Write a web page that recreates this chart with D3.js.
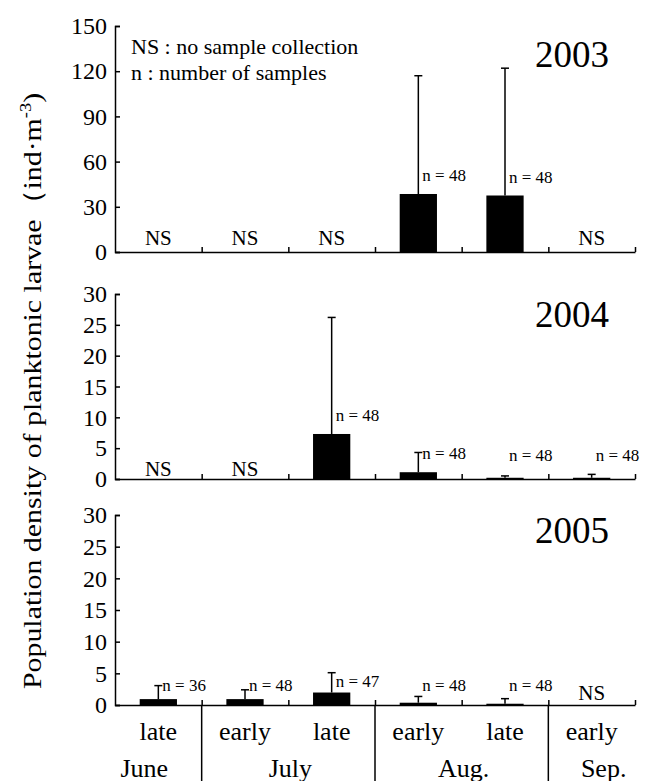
<!DOCTYPE html>
<html>
<head>
<meta charset="utf-8">
<script src="https://cdn.jsdelivr.net/npm/d3@7"></script>
<style>
  body { margin: 0; background: #fff; }
  svg text { font-family: "Liberation Serif", "Tinos", "Times New Roman", "DejaVu Serif", serif; fill: #000; }
</style>
</head>
<body>
<div id="chart"></div>
<script>
// periods (half-months) on the x axis
var periods = ["late June", "early July", "late July", "early Aug.", "late Aug.", "early Sep."];
var halves = ["late", "early", "late", "early", "late", "early"];
var months = ["June", "July", "Aug.", "Sep."];
var monthSpans = [[0, 1], [1, 3], [3, 5], [5, 6]];

// null = NS (no sample collection)
var mean2003 = [null, null, null, 38.5, 37.5, null];
var sd2003 = [null, null, null, 78.5, 84.5, null];
var n2003 = [null, null, null, 48, 48, null];

var mean2004 = [null, null, 7.3, 1.1, 0.2, 0.2];
var sd2004 = [null, null, 18.9, 3.2, 0.3, 0.55];
var n2004 = [null, null, 48, 48, 48, 48];

var mean2005 = [0.93, 0.93, 1.97, 0.36, 0.2, null];
var sd2005 = [2.13, 1.47, 3.13, 0.99, 0.8, null];
var n2005 = [36, 48, 47, 48, 48, null];

var ticks2003 = [0, 30, 60, 90, 120, 150];
var ticks2004 = [0, 5, 10, 15, 20, 25, 30];
var ticks2005 = [0, 5, 10, 15, 20, 25, 30];

var width = 648, height = 781;
var left = 115, right = 635;
var serif = "Liberation Serif, Tinos, Times New Roman, DejaVu Serif, serif";

var svg = d3.select("#chart").append("svg")
  .attr("width", width)
  .attr("height", height)
  .attr("font-family", serif);

var x = d3.scaleBand().domain(periods).range([left, right]);
var xEdge = d3.scaleLinear().domain([0, periods.length]).range([left, right]);
var barW = x.bandwidth() * 0.43;

var panels = [
  { year: "2003", mean: mean2003, sd: sd2003, n: n2003, ticks: ticks2003, top: 26, bottom: 252, yearY: 67, gap: 13, floor: 18, ns: 7 },
  { year: "2004", mean: mean2004, sd: sd2004, n: n2004, ticks: ticks2004, top: 294, bottom: 479, yearY: 327, gap: 13, floor: 18, ns: 3 },
  { year: "2005", mean: mean2005, sd: sd2005, n: n2005, ticks: ticks2005, top: 515, bottom: 705, yearY: 543, gap: 6, floor: 14, ns: 5 }
];

panels.forEach(function (p) {
  var y = d3.scaleLinear()
    .domain([0, d3.max(p.ticks)])
    .range([p.bottom, p.top]);

  var g = svg.append("g");

  // y axis, ticks pointing inward
  var yAxis = g.append("g")
    .attr("transform", "translate(" + left + ",0)")
    .call(d3.axisLeft(y).tickValues(p.ticks).tickSizeInner(-5).tickSizeOuter(-5).tickPadding(8));
  yAxis.attr("font-family", serif).attr("font-size", 24);
  yAxis.selectAll("text").attr("font-size", 24);

  // x axis with ticks at the period boundaries
  g.append("g")
    .attr("transform", "translate(0," + p.bottom + ")")
    .call(d3.axisBottom(xEdge).tickValues(d3.range(1, periods.length + 1)).tickSizeInner(-5).tickSizeOuter(0).tickFormat(""));

  g.selectAll(".domain, .tick line").attr("stroke", "#000").attr("stroke-width", 1.5);

  var rows = periods.map(function (d, i) {
    return { period: d, mean: p.mean[i], sd: p.sd[i], n: p.n[i] };
  });
  var sampled = rows.filter(function (d) { return d.mean !== null; });
  var missing = rows.filter(function (d) { return d.mean === null; });

  g.selectAll(".bar")
    .data(sampled)
    .enter()
    .append("rect")
    .attr("x", function (d) { return x(d.period) + x.bandwidth() / 2 - barW / 2; })
    .attr("y", function (d) { return y(d.mean); })
    .attr("width", barW)
    .attr("height", function (d) { return p.bottom - y(d.mean); })
    .attr("fill", "#000");

  // upper error bars with caps
  var err = g.selectAll(".err")
    .data(sampled)
    .enter()
    .append("g")
    .attr("stroke", "#000")
    .attr("stroke-width", 1.5);
  err.append("line")
    .attr("x1", function (d) { return x(d.period) + x.bandwidth() / 2; })
    .attr("x2", function (d) { return x(d.period) + x.bandwidth() / 2; })
    .attr("y1", function (d) { return y(d.mean); })
    .attr("y2", function (d) { return y(d.mean + d.sd); });
  err.append("line")
    .attr("x1", function (d) { return x(d.period) + x.bandwidth() / 2 - 4; })
    .attr("x2", function (d) { return x(d.period) + x.bandwidth() / 2 + 4; })
    .attr("y1", function (d) { return y(d.mean + d.sd); })
    .attr("y2", function (d) { return y(d.mean + d.sd); });

  g.selectAll(".nlab")
    .data(sampled)
    .enter()
    .append("text")
    .attr("x", function (d) { return x(d.period) + x.bandwidth() / 2 + 4; })
    .attr("y", function (d) { return Math.min(y(d.mean) - p.gap, p.bottom - p.floor); })
    .attr("font-size", 17)
    .text(function (d) { return "n = " + d.n; });

  g.selectAll(".ns")
    .data(missing)
    .enter()
    .append("text")
    .attr("x", function (d) { return x(d.period) + x.bandwidth() / 2; })
    .attr("y", p.bottom - p.ns)
    .attr("text-anchor", "middle")
    .attr("font-size", 21)
    .text("NS");

  g.append("text")
    .attr("x", 609)
    .attr("y", p.yearY)
    .attr("text-anchor", "end")
    .attr("font-size", 37)
    .text(p.year);
});

// legend
svg.append("text").attr("x", 131).attr("y", 54).attr("font-size", 22).text("NS : no sample collection");
svg.append("text").attr("x", 131).attr("y", 80).attr("font-size", 22).text("n : number of samples");

// category labels under the last panel
svg.selectAll(".half")
  .data(periods)
  .enter()
  .append("text")
  .attr("x", function (d) { return x(d) + x.bandwidth() / 2; })
  .attr("y", 740)
  .attr("text-anchor", "middle")
  .attr("font-size", 26)
  .text(function (d, i) { return halves[i]; });

svg.selectAll(".month")
  .data(months)
  .enter()
  .append("text")
  .attr("x", function (d, i) { return (xEdge(monthSpans[i][0]) + xEdge(monthSpans[i][1])) / 2; })
  .attr("dx", function (d, i) { return i === 0 ? -14 : (i === 3 ? 12 : 2); })
  .attr("y", 777)
  .attr("text-anchor", "middle")
  .attr("font-size", 26)
  .text(function (d) { return d; });

svg.selectAll(".sep")
  .data([1, 3, 5])
  .enter()
  .append("line")
  .attr("x1", function (d) { return xEdge(d); })
  .attr("x2", function (d) { return xEdge(d); })
  .attr("y1", 705)
  .attr("y2", 781)
  .attr("stroke", "#000")
  .attr("stroke-width", 1.5);

// y axis title (stretched along its length like the source figure)
var title = svg.append("text")
  .attr("transform", "translate(41,391) rotate(-90) scale(1.15,1)")
  .attr("text-anchor", "middle")
  .attr("font-size", 26);
title.append("tspan").text("Population density of  planktonic larvae（ind·m");
title.append("tspan").attr("font-size", 16).attr("dy", -10).text("-3");
title.append("tspan").attr("dy", 10).text(")");
</script>
</body>
</html>
